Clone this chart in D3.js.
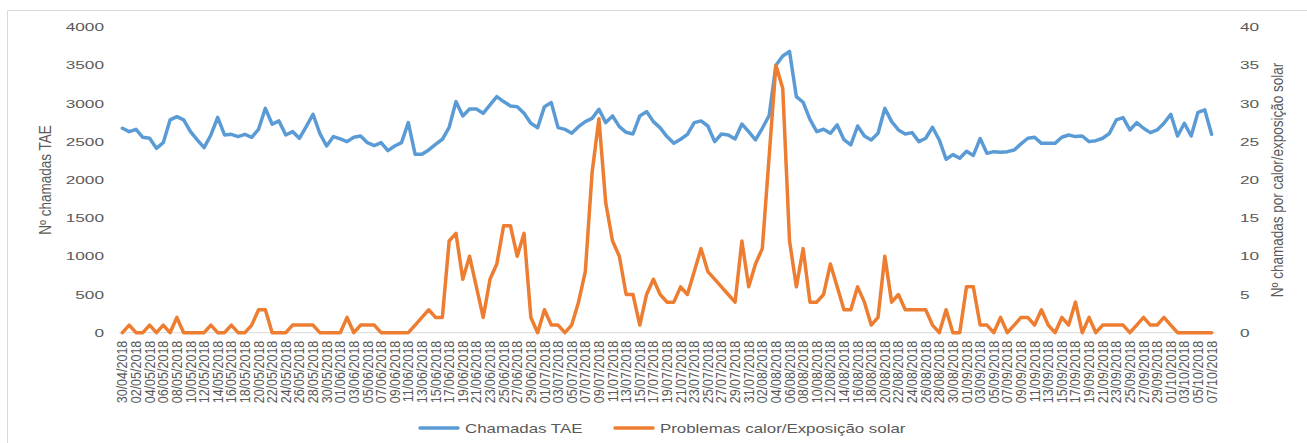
<!DOCTYPE html>
<html>
<head>
<meta charset="utf-8">
<script src="https://cdn.jsdelivr.net/npm/d3@7"></script>
<style>
body { margin: 0; background: #fff; }
text { font-family: "Liberation Sans", Arial, sans-serif; fill: #595959; }
</style>
</head>
<body>
<svg width="1307" height="443"></svg>
<script>
// categories (daily, 30/04/2018 -> 07/10/2018)
var dates = [
 "30/04/2018",
 "01/05/2018","02/05/2018","03/05/2018","04/05/2018","05/05/2018","06/05/2018","07/05/2018","08/05/2018","09/05/2018","10/05/2018",
 "11/05/2018","12/05/2018","13/05/2018","14/05/2018","15/05/2018","16/05/2018","17/05/2018","18/05/2018","19/05/2018","20/05/2018",
 "21/05/2018","22/05/2018","23/05/2018","24/05/2018","25/05/2018","26/05/2018","27/05/2018","28/05/2018","29/05/2018","30/05/2018","31/05/2018",
 "01/06/2018","02/06/2018","03/06/2018","04/06/2018","05/06/2018","06/06/2018","07/06/2018","08/06/2018","09/06/2018","10/06/2018",
 "11/06/2018","12/06/2018","13/06/2018","14/06/2018","15/06/2018","16/06/2018","17/06/2018","18/06/2018","19/06/2018","20/06/2018",
 "21/06/2018","22/06/2018","23/06/2018","24/06/2018","25/06/2018","26/06/2018","27/06/2018","28/06/2018","29/06/2018","30/06/2018",
 "01/07/2018","02/07/2018","03/07/2018","04/07/2018","05/07/2018","06/07/2018","07/07/2018","08/07/2018","09/07/2018","10/07/2018",
 "11/07/2018","12/07/2018","13/07/2018","14/07/2018","15/07/2018","16/07/2018","17/07/2018","18/07/2018","19/07/2018","20/07/2018",
 "21/07/2018","22/07/2018","23/07/2018","24/07/2018","25/07/2018","26/07/2018","27/07/2018","28/07/2018","29/07/2018","30/07/2018","31/07/2018",
 "01/08/2018","02/08/2018","03/08/2018","04/08/2018","05/08/2018","06/08/2018","07/08/2018","08/08/2018","09/08/2018","10/08/2018",
 "11/08/2018","12/08/2018","13/08/2018","14/08/2018","15/08/2018","16/08/2018","17/08/2018","18/08/2018","19/08/2018","20/08/2018",
 "21/08/2018","22/08/2018","23/08/2018","24/08/2018","25/08/2018","26/08/2018","27/08/2018","28/08/2018","29/08/2018","30/08/2018","31/08/2018",
 "01/09/2018","02/09/2018","03/09/2018","04/09/2018","05/09/2018","06/09/2018","07/09/2018","08/09/2018","09/09/2018","10/09/2018",
 "11/09/2018","12/09/2018","13/09/2018","14/09/2018","15/09/2018","16/09/2018","17/09/2018","18/09/2018","19/09/2018","20/09/2018",
 "21/09/2018","22/09/2018","23/09/2018","24/09/2018","25/09/2018","26/09/2018","27/09/2018","28/09/2018","29/09/2018","30/09/2018",
 "01/10/2018","02/10/2018","03/10/2018","04/10/2018","05/10/2018","06/10/2018","07/10/2018"
];

// Chamadas TAE (left axis)
var chamadasTAE = [
 2675,2631,2661,2557,2544,2413,2487,2784,2827,2784,
 2631,2522,2422,2587,2818,2587,2596,2566,2596,2557,
 2661,2936,2727,2771,2587,2631,2544,2696,2858,2609,
 2443,2566,2535,2500,2557,2574,2487,2448,2487,2382,
 2443,2487,2749,2334,2334,2391,2465,2531,2688,3024,
 2836,2928,2928,2871,2980,3090,3024,2967,2958,2871,
 2740,2683,2958,3011,2683,2661,2609,2696,2762,2805,
 2924,2749,2836,2696,2622,2600,2836,2893,2762,2680,
 2566,2478,2531,2596,2749,2771,2705,2500,2600,2587,
 2535,2731,2631,2522,2675,2840,3500,3620,3680,3090,
 3015,2790,2631,2662,2609,2718,2525,2457,2705,2574,
 2522,2609,2936,2762,2653,2600,2618,2500,2544,2688,
 2522,2269,2330,2282,2375,2320,2540,2347,2369,2360,
 2369,2391,2470,2544,2557,2478,2478,2478,2557,2587,
 2566,2574,2500,2513,2544,2609,2784,2814,2653,2749,
 2675,2618,2653,2740,2858,2574,2740,2574,2884,2915,
 2596
];

// Problemas calor/Exposição solar (right axis)
var calorSolar = [
 0,1,0,0,1,0,1,0,2,0,
 0,0,0,1,0,0,1,0,0,1,
 3,3,0,0,0,1,1,1,1,0,
 0,0,0,2,0,1,1,1,0,0,
 0,0,0,1,2,3,2,2,12,13,
 7,10,6,2,7,9,14,14,10,13,
 2,0,3,1,1,0,1,4,8,21,
 28,17,12,10,5,5,1,5,7,5,
 4,4,6,5,8,11,8,7,6,5,
 4,12,6,9,11,23,35,32,12,6,
 11,4,4,5,9,6,3,3,6,4,
 1,2,10,4,5,3,3,3,3,1,
 0,3,0,0,6,6,1,1,0,2,
 0,1,2,2,1,3,1,0,2,1,
 4,0,2,0,1,1,1,1,0,1,
 2,1,1,2,1,0,0,0,0,0,
 0
];

var leftTicks = [0, 500, 1000, 1500, 2000, 2500, 3000, 3500, 4000];
var rightTicks = [0, 5, 10, 15, 20, 25, 30, 35, 40];
var xLabels = dates.filter(function(d, i) { return i % 2 == 0; });

var svg = d3.select("svg");

var x = d3.scaleBand().domain(dates).range([119, 1215]).padding(0);
var yL = d3.scaleLinear().domain([0, 4000]).range([332.7, 27]);
var yR = d3.scaleLinear().domain([0, 40]).range([332.7, 27]);
function cx(d) { return x(d) + x.bandwidth() / 2; }

// chart frame (partly cropped)
svg.append("path")
  .attr("d", "M7.5,443V10.5H1307")
  .attr("fill", "none")
  .attr("stroke", "#d9d9d9");

// baseline
svg.append("line")
  .attr("x1", 119).attr("x2", 1215)
  .attr("y1", yL(0)).attr("y2", yL(0))
  .attr("stroke", "#d9d9d9");

// left axis
var gL = svg.append("g").attr("transform", "translate(119,0)")
  .call(d3.axisLeft(yL).tickValues(leftTicks).tickFormat(d3.format("d")).tickSize(0).tickPadding(0));
gL.select(".domain").remove();
gL.selectAll("text")
  .attr("x", 0)
  .attr("font-size", "11.5px")
  .attr("font-family", null)
  .attr("transform", "translate(-15,0) scale(1.5,1)");

// right axis
var gR = svg.append("g").attr("transform", "translate(1215,0)")
  .call(d3.axisRight(yR).tickValues(rightTicks).tickFormat(d3.format("d")).tickSize(0).tickPadding(0));
gR.select(".domain").remove();
gR.selectAll("text")
  .attr("x", 0)
  .attr("font-size", "11.5px")
  .attr("font-family", null)
  .attr("transform", "translate(25,0) scale(1.5,1)");

// category axis
var gX = svg.append("g").attr("transform", "translate(0," + yL(0) + ")")
  .call(d3.axisBottom(x).tickValues(xLabels).tickSize(0).tickPadding(0));
gX.select(".domain").remove();
gX.selectAll("text")
  .attr("x", 0).attr("y", 0)
  .attr("dy", "0.35em")
  .attr("text-anchor", "end")
  .attr("font-size", "12.5px")
  .attr("font-family", null)
  .attr("transform", "translate(0,8) scale(1.15,1) rotate(-90)");

// axis titles
svg.append("text")
  .attr("transform", "translate(51,180) scale(1.2,1) rotate(-90)")
  .attr("text-anchor", "middle")
  .attr("font-size", "13.5px")
  .text("Nº chamadas TAE");

svg.append("text")
  .attr("transform", "translate(1283,180) scale(1.2,1) rotate(-90)")
  .attr("text-anchor", "middle")
  .attr("font-size", "13.5px")
  .text("Nº chamadas por calor/exposição solar");

// lines
var lineL = d3.line().x(function(d, i) { return cx(dates[i]); }).y(function(d) { return yL(d); });
var lineR = d3.line().x(function(d, i) { return cx(dates[i]); }).y(function(d) { return yR(d); });

svg.append("path")
  .datum(chamadasTAE)
  .attr("d", lineL)
  .attr("fill", "none")
  .attr("stroke", "#5b9bd5")
  .attr("stroke-width", 3.5)
  .attr("stroke-linejoin", "round")
  .attr("stroke-linecap", "round");

svg.append("path")
  .datum(calorSolar)
  .attr("d", lineR)
  .attr("fill", "none")
  .attr("stroke", "#ed7d31")
  .attr("stroke-width", 3.5)
  .attr("stroke-linejoin", "round")
  .attr("stroke-linecap", "round");

// legend
var legend = [
  {name: "Chamadas TAE", color: "#5b9bd5", x: 420},
  {name: "Problemas calor/Exposição solar", color: "#ed7d31", x: 615}
];
var lg = svg.selectAll(".legend").data(legend).enter().append("g").attr("class", "legend");
lg.append("line")
  .attr("x1", function(d) { return d.x; })
  .attr("x2", function(d) { return d.x + 38; })
  .attr("y1", 428).attr("y2", 428)
  .attr("stroke", function(d) { return d.color; })
  .attr("stroke-width", 3.5)
  .attr("stroke-linecap", "round");
lg.append("text")
  .attr("transform", function(d) { return "translate(" + (d.x + 45) + ",432.5) scale(1.35,1)"; })
  .attr("font-size", "12.5px")
  .text(function(d) { return d.name; });
</script>
</body>
</html>
